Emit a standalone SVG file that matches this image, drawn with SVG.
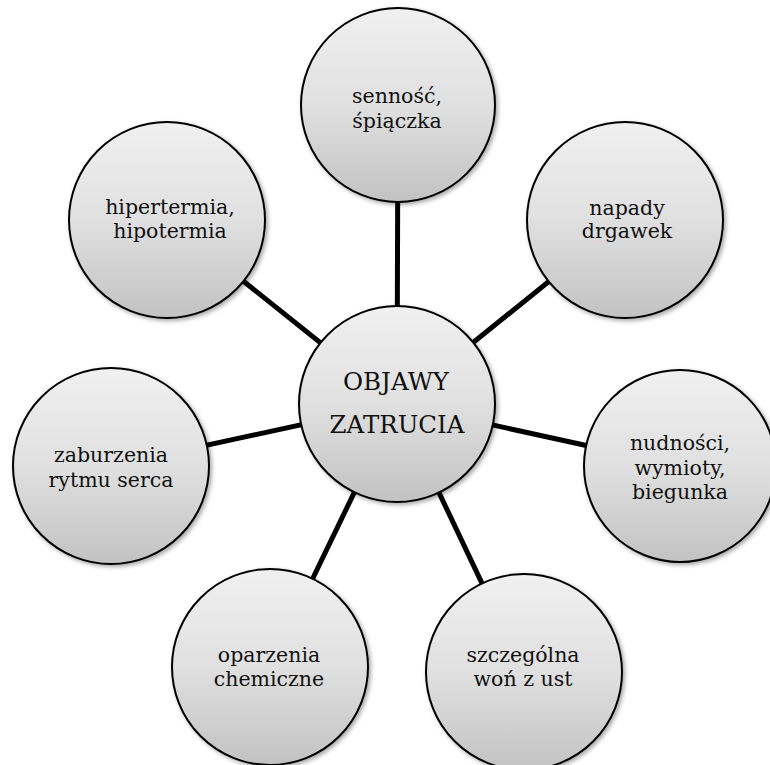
<svg xmlns="http://www.w3.org/2000/svg" width="770" height="765" viewBox="0 0 770 765">
<defs>
<linearGradient id="g" x1="0" y1="0" x2="0" y2="1">
<stop offset="0" stop-color="#f0f0f0"/>
<stop offset="0.5" stop-color="#e0e0e0"/>
<stop offset="1" stop-color="#c2c2c2"/>
</linearGradient>
<filter id="sh" x="-20%" y="-20%" width="140%" height="140%">
<feDropShadow dx="2" dy="2" stdDeviation="2" flood-color="#000" flood-opacity="0.35"/>
</filter>
<style>
.c{fill:url(#g);stroke:#000;stroke-width:2;filter:url(#sh)}
.t{font-family:"DejaVu Serif","Liberation Serif",serif;font-size:20.5px;fill:#111;text-anchor:middle}
.tc{font-size:24.5px}
.l{stroke:#000;stroke-width:5;fill:none}
</style>
</defs>
<rect width="770" height="765" fill="#fff"/>
<g id="connectors">
<line class="l" x1="397" y1="404" x2="398" y2="105"/>
<line class="l" x1="397" y1="404" x2="625" y2="220"/>
<line class="l" x1="397" y1="404" x2="680" y2="466"/>
<line class="l" x1="397" y1="404" x2="524" y2="672"/>
<line class="l" x1="397" y1="404" x2="270" y2="667"/>
<line class="l" x1="397" y1="404" x2="111" y2="466"/>
<line class="l" x1="397" y1="404" x2="167" y2="220"/>
</g>
<g id="center">
<circle class="c" cx="397" cy="404" r="98"/>
<text class="t tc" x="396" y="390">OBJAWY</text>
<text class="t tc" x="397" y="433">ZATRUCIA</text>
</g>
<g id="n-sennosc">
<circle class="c" cx="398" cy="105" r="97"/>
<text class="t" x="397" y="103">senność,</text>
<text class="t" x="397" y="128">śpiączka</text>
</g>
<g id="n-napady">
<circle class="c" cx="625" cy="220" r="98"/>
<text class="t" x="627" y="215">napady</text>
<text class="t" x="627" y="238">drgawek</text>
</g>
<g id="n-nudnosci">
<circle class="c" cx="680" cy="466" r="96"/>
<text class="t" x="680" y="450">nudności,</text>
<text class="t" x="680" y="475">wymioty,</text>
<text class="t" x="680" y="499">biegunka</text>
</g>
<g id="n-won">
<circle class="c" cx="524" cy="672" r="98"/>
<text class="t" x="523" y="662">szczególna</text>
<text class="t" x="523" y="686">woń z ust</text>
</g>
<g id="n-oparzenia">
<circle class="c" cx="270" cy="667" r="98"/>
<text class="t" x="269" y="662">oparzenia</text>
<text class="t" x="269" y="686">chemiczne</text>
</g>
<g id="n-zaburzenia">
<circle class="c" cx="111" cy="466" r="98"/>
<text class="t" x="111" y="462">zaburzenia</text>
<text class="t" x="111" y="487">rytmu serca</text>
</g>
<g id="n-hipertermia">
<circle class="c" cx="167" cy="220" r="98"/>
<text class="t" x="170" y="214">hipertermia,</text>
<text class="t" x="170" y="238">hipotermia</text>
</g>
</svg>
